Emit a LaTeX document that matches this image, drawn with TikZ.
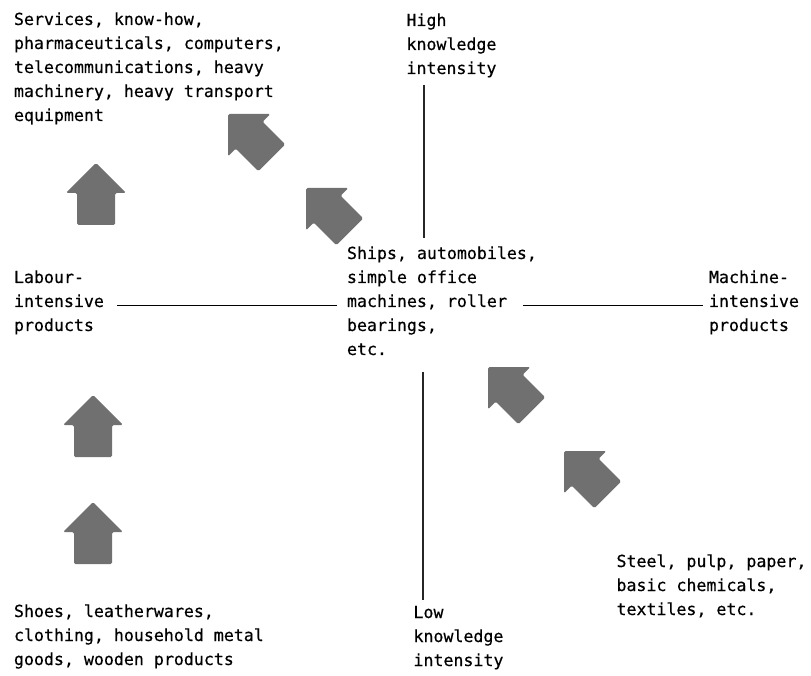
\documentclass[tikz,border=0pt]{standalone}
\usepackage{fontspec}
\newfontfamily\labelfont[FakeBold=0.4]{DejaVu Sans Mono}
\definecolor{arrowfill}{RGB}{112,112,112}
\newcommand{\lns}[1]{\begin{tabular}[t]{@{}l@{}}#1\end{tabular}}
\tikzset{
  lbl/.style={anchor=base west, inner sep=0pt, outer sep=0pt, text=black,
    font=\labelfont\fontsize{16.6}{24}\selectfont},
  axisline/.style={line width=2.4pt, draw=black!85},
  hline/.style={line width=1pt, draw=black},
  blockarrow/.pic={\fill[arrowfill, rounded corners=1.5pt]
    (0,0) -- (30,30) -- (19,30) -- (19,62) -- (-19,62) -- (-19,30) -- (-30,30) -- cycle;}
}
\begin{document}
\begin{tikzpicture}[x=1pt, y=-1pt]
\useasboundingbox (0,0) rectangle (811,676);
\fill[white] (0,0) rectangle (811,676);

% text blocks
\node[lbl] (hi) at (14,25) {\lns{Services, know-how,\\pharmaceuticals, computers,\\telecommunications, heavy\\machinery, heavy transport\\equipment}};
\node[lbl] (hk) at (406.5,26) {\lns{High\\knowledge\\intensity}};
\node[lbl] (mid) at (347,259) {\lns{Ships, automobiles,\\simple office\\machines, roller\\bearings,\\etc.}};
\node[lbl] (li) at (14,283) {\lns{Labour-\\intensive\\products}};
\node[lbl] (mi) at (709,283) {\lns{Machine-\\intensive\\products}};
\node[lbl] (st) at (616.5,567) {\lns{Steel, pulp, paper,\\basic chemicals,\\textiles, etc.}};
\node[lbl] (sh) at (14,617) {\lns{Shoes, leatherwares,\\clothing, household metal\\goods, wooden products}};
\node[lbl] (lk) at (413.5,618) {\lns{Low\\knowledge\\intensity}};

% axes
\coordinate (vt1) at (424,85);
\coordinate (vt2) at (424,238);
\coordinate (vb1) at (423,372);
\coordinate (vb2) at (423,600);
\coordinate (hl1) at (117,306);
\coordinate (hl2) at (337,306);
\coordinate (hr1) at (523,306);
\coordinate (hr2) at (703,306);
\draw[axisline] (vt1) -- (vt2);
\draw[axisline] (vb1) -- (vb2);
\draw[hline] (hl1) -- (hl2);
\draw[hline] (hr1) -- (hr2);

% block arrows
\pic (a1) at (96,163) {blockarrow};
\pic (a2) at (93,395) {blockarrow};
\pic (a3) at (93,502) {blockarrow};
\pic[rotate=45] (d1) at (228,114) {blockarrow};
\pic[rotate=45] (d2) at (306,188) {blockarrow};
\pic[rotate=45] (d3) at (488,367) {blockarrow};
\pic[rotate=45] (d4) at (564,451) {blockarrow};
\end{tikzpicture}
\end{document}
